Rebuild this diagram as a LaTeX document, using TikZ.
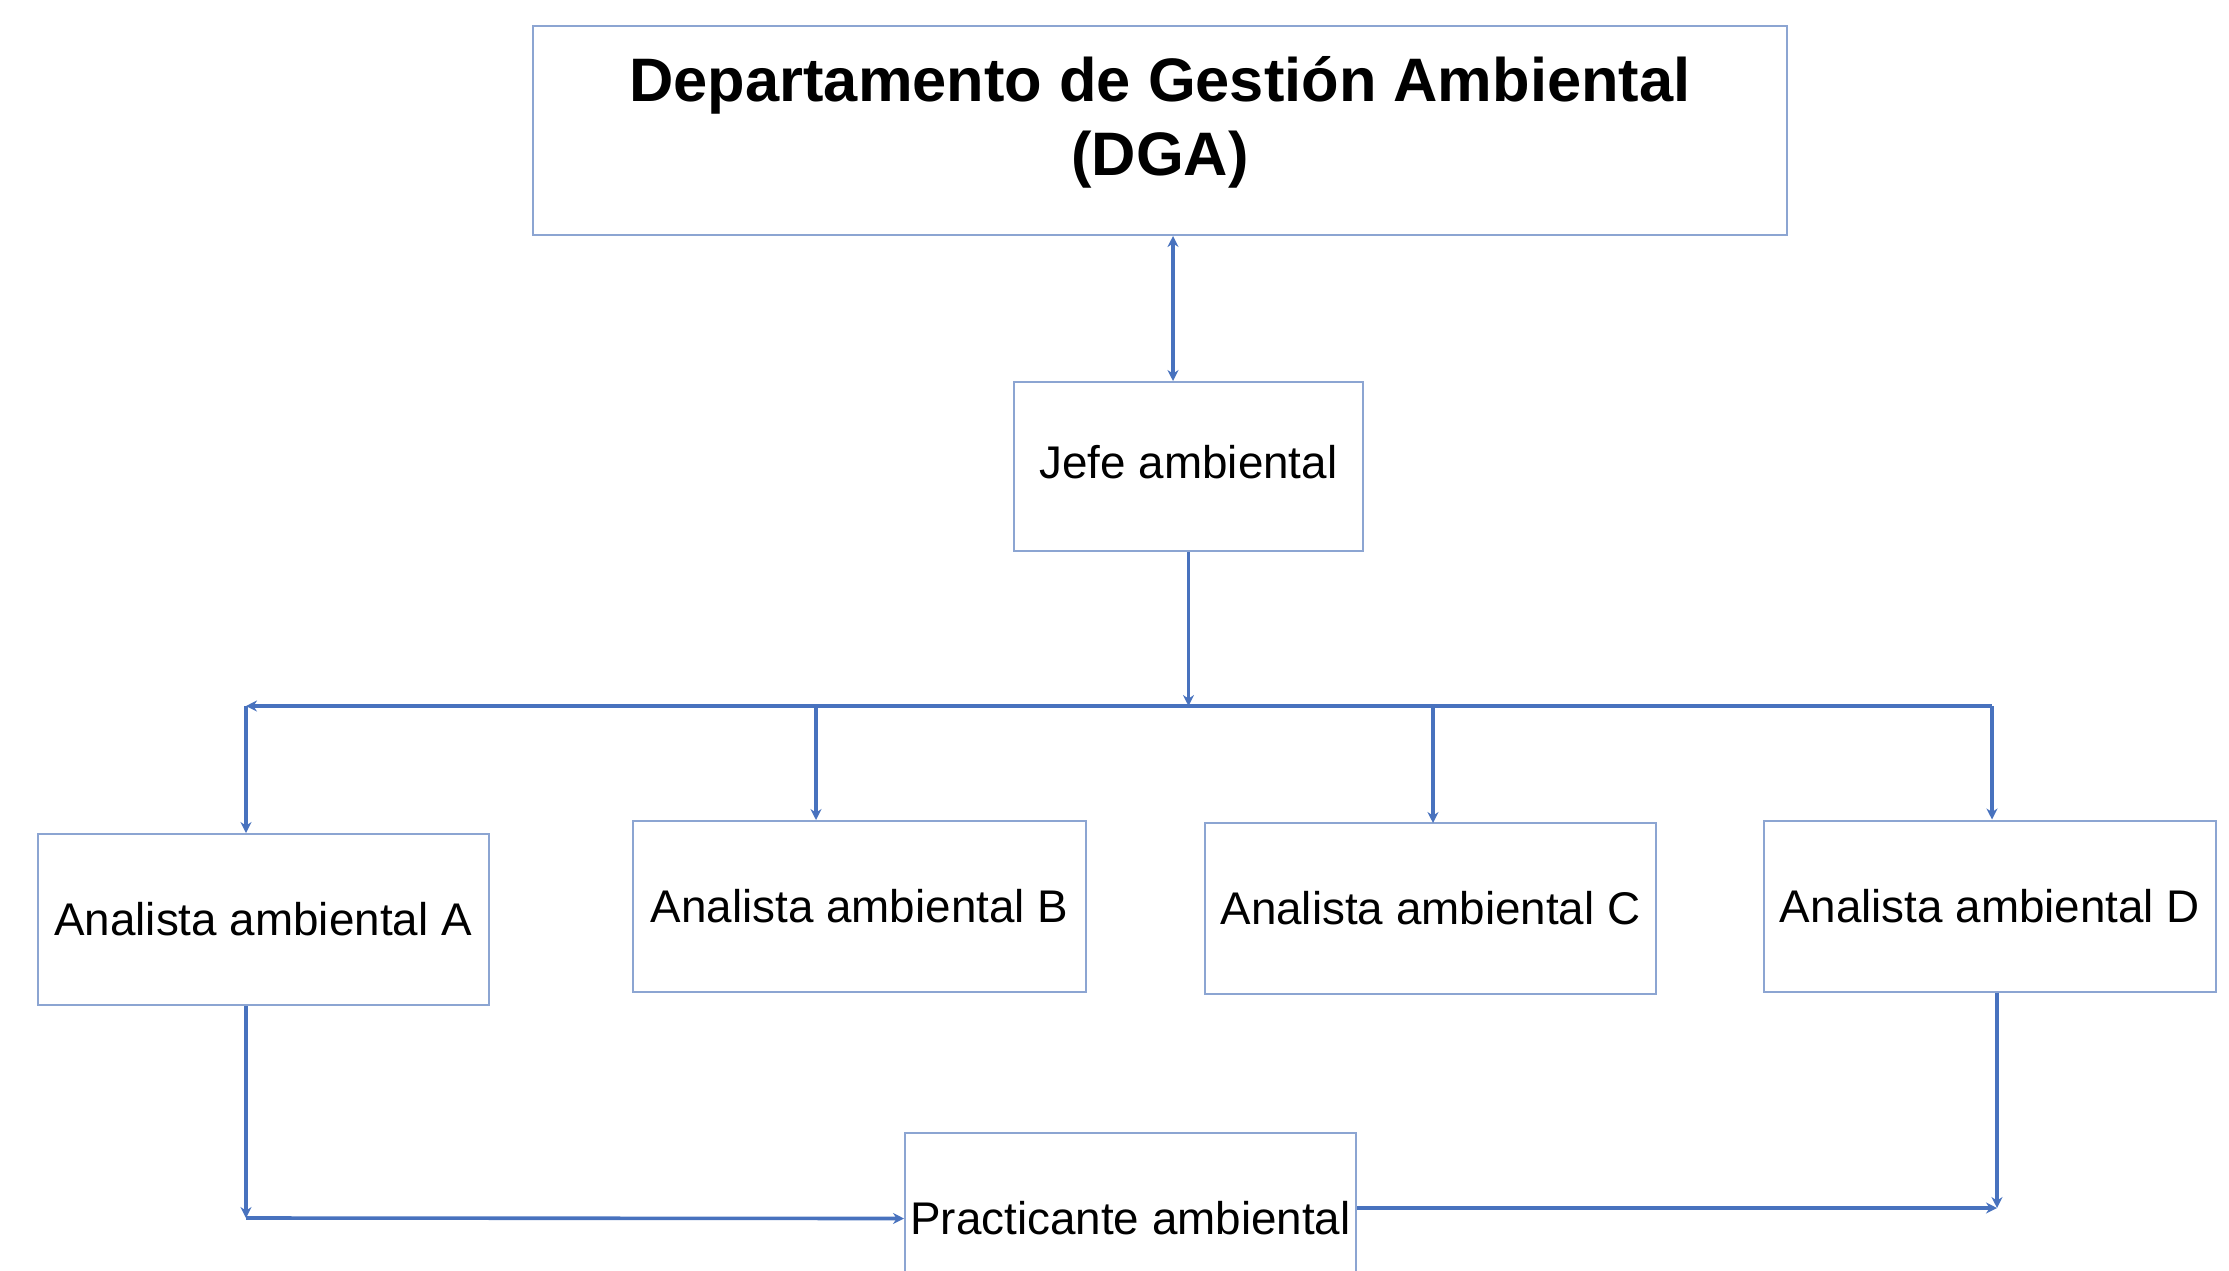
\documentclass[tikz,border=0pt]{standalone}
\usepackage{fontspec}
\setmainfont{Liberation Sans}
\usetikzlibrary{arrows.meta, positioning}

\definecolor{boxline}{RGB}{140,165,210}
\definecolor{linkblue}{RGB}{72,114,190}

\begin{document}
\begin{tikzpicture}[
    x=0.5pt, y=-0.5pt,
    box/.style={draw=boxline, line width=1pt, align=center, inner sep=0pt, minimum width=225.5pt, minimum height=85.5pt, font=\fontsize{22.9}{27}\selectfont},
    arrow/.style={-{Stealth[length=5.5pt, width=5.5pt]}, draw=linkblue, line width=1.8pt}
  ]
    \useasboundingbox (0,0) rectangle (2229,1270);

    \node[box, minimum width=627pt, minimum height=104.5pt, text depth=15pt, font=\fontsize{30.7}{37}\selectfont\bfseries] (dga) at (1160,130.5) {Departamento de Gestión Ambiental\\(DGA)};
    \node[box, minimum width=174.5pt, minimum height=84.5pt, text depth=4.5pt] (jefe) at (1188.5,466.5) {Jefe ambiental};

    \node[box] (anaA) at (263,919.5) {Analista ambiental A};
    \node[box, minimum width=226.5pt] (anaB) at (859.5,906) {Analista ambiental B};
    \node[box] (anaC) at (1430.5,908.5) {Analista ambiental C};
    \node[box, minimum width=226pt] (anaD) at (1990,906) {Analista ambiental D};

    \node[box] (pract) at (1130.5,1218.5) {Practicante ambiental};

    \coordinate (busL) at (246,706);
    \coordinate (busR) at (1992,706);
    \coordinate (cornA) at (246,1218);
    \coordinate (cornD) at (1997,1208);

    \draw[arrow, {Stealth[length=5.5pt, width=5.5pt]}-{Stealth[length=5.5pt, width=5.5pt]}] ([xshift=6.5pt]dga.south) -- ([xshift=6.5pt]dga.south |- jefe.north);
    \draw[arrow] (jefe.south) -- (jefe.south |- busL);

    \draw[arrow] (busR) -- (busL);
    \draw[arrow] (busL) -- (busL |- anaA.north);
    \draw[arrow] (816,706) -- (816,820);
    \draw[arrow] (1433,706) -- (1433,823);
    \draw[arrow] (busR) -- (busR |- anaD.north);

    \draw[arrow] (anaA.south -| cornA) -- (cornA);
    \draw[arrow] (cornA) -- (pract.west);
    \draw[arrow] (pract.east |- cornD) -- (cornD);
    \draw[arrow] (anaD.south -| cornD) -- (cornD);
  \end{tikzpicture}
\end{document}
